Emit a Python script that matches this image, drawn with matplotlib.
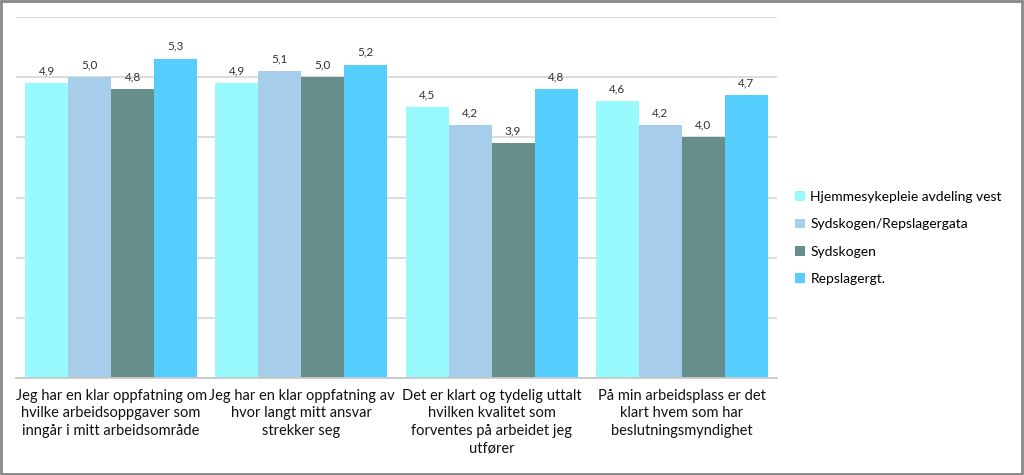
import numpy as np
import matplotlib.pyplot as plt
from matplotlib.patches import Rectangle

# data
categories = [
    "Jeg har en klar oppfatning om\nhvilke arbeidsoppgaver som\ninngår i mitt arbeidsområde",
    "Jeg har en klar oppfatning av\nhvor langt mitt ansvar\nstrekker seg",
    "Det er klart og tydelig uttalt\nhvilken kvalitet som\nforventes på arbeidet jeg\nutfører",
    "På min arbeidsplass er det\nklart hvem som har\nbeslutningsmyndighet",
]
series = ["Hjemmesykepleie avdeling vest", "Sydskogen/Repslagergata", "Sydskogen", "Repslagergt."]
values = [
    [4.9, 4.9, 4.5, 4.6],
    [5.0, 5.1, 4.2, 4.2],
    [4.8, 5.0, 3.9, 4.0],
    [5.3, 5.2, 4.8, 4.7],
]
colors = ["#98FAFC", "#A6CDEA", "#668F8C", "#55CDFD"]

plt.rcParams['font.family'] = ['Lato', 'DejaVu Sans']

fig = plt.figure(figsize=(10.24, 4.75), dpi=100)
ax = fig.add_axes([16 / 1024, 97 / 475, 761 / 1024, 361 / 475])

x = np.arange(len(categories))
w = 0.226
for i, (name, vals) in enumerate(zip(series, values)):
    pos = x + (i - 1.5) * w
    bars = ax.bar(pos, vals, w, color=colors[i], label=name, zorder=2)
    for b, v in zip(bars, vals):
        ax.text(b.get_x() + b.get_width() / 2, v + 0.12, f"{v:.1f}".replace(".", ","),
                ha="center", va="bottom", fontsize=8.5, color="#333333")

ax.set_xlim(-0.5, 3.5)
ax.set_ylim(0, 6)
ax.set_yticks(range(0, 7))
ax.yaxis.grid(True, color="#D9D9D9", linewidth=1.3, zorder=0)
ax.set_yticklabels([])
ax.tick_params(axis="y", length=0)
ax.set_xticks(x)
ax.set_xticklabels(categories, fontsize=10.5, color="#111111", linespacing=1.3)
ax.tick_params(axis="x", length=0, pad=8)
for s in ["top", "right", "left"]:
    ax.spines[s].set_visible(False)
ax.spines["bottom"].set_color("#C8C8C8")
ax.spines["bottom"].set_linewidth(1.3)

ax.legend(loc="center left", bbox_to_anchor=(795 / 1024, 237 / 475), bbox_transform=fig.transFigure,
          frameon=False, fontsize=10, handlelength=0.7, handleheight=0.7, handletextpad=0.4,
          labelspacing=1.1, borderaxespad=0, borderpad=0)

# outer border
fig.patches.append(Rectangle((0.001, 0.002), 0.997, 0.995, transform=fig.transFigure,
                             fill=False, edgecolor="#868686", linewidth=2))

fig.savefig("out.png", dpi=100)
